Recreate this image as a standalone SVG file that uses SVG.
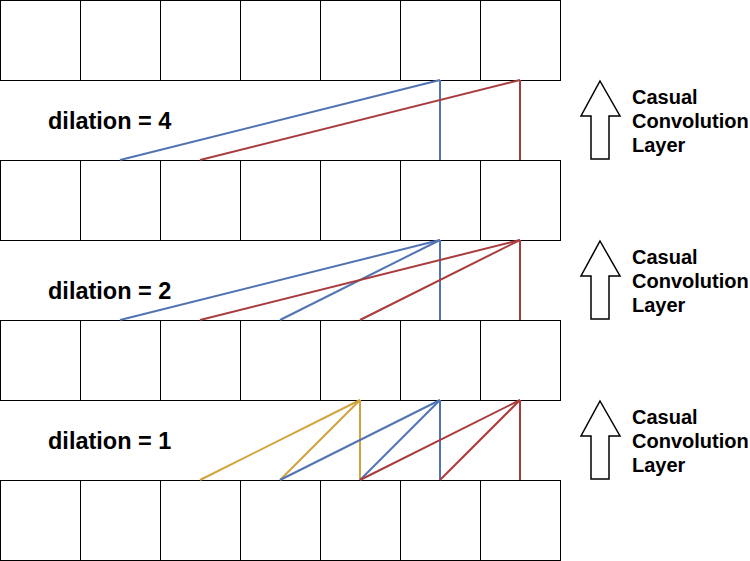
<svg xmlns="http://www.w3.org/2000/svg" width="750" height="561" viewBox="0 0 750 561">
<style>
.cell{fill:#fff;stroke:#000;stroke-width:1}
.b{stroke:#4F73B3;stroke-width:2;fill:none}
.r{stroke:#A83B3B;stroke-width:2;fill:none}
.y{stroke:#D1A23E;stroke-width:2;fill:none}
.arrow{fill:#fff;stroke:#000;stroke-width:1.5;stroke-linejoin:miter}
.dl{font-family:"Liberation Sans",Arial,sans-serif;font-weight:bold;font-size:23.5px;fill:#000}
.lbl{font-family:"Liberation Sans",Arial,sans-serif;font-weight:bold;font-size:20px;fill:#000}
</style>
<defs>
<g id="row">
<rect class="cell" x="0.5" y="0.5" width="80" height="80"/>
<rect class="cell" x="80.5" y="0.5" width="80" height="80"/>
<rect class="cell" x="160.5" y="0.5" width="80" height="80"/>
<rect class="cell" x="240.5" y="0.5" width="80" height="80"/>
<rect class="cell" x="320.5" y="0.5" width="80" height="80"/>
<rect class="cell" x="400.5" y="0.5" width="80" height="80"/>
<rect class="cell" x="480.5" y="0.5" width="80" height="80"/>
</g>
<path id="arr" class="arrow" d="M600,1 L620,36 L609,36 L609,79 L591,79 L591,36 L581,36 Z"/>
</defs>
<g id="row4"><use href="#row" x="0" y="0"/></g>
<g id="row3"><use href="#row" x="0" y="160"/></g>
<g id="row2"><use href="#row" x="0" y="320"/></g>
<g id="row1"><use href="#row" x="0" y="480"/></g>
<g id="connectors">
<line class="b" x1="440" y1="80" x2="120" y2="160"/>
<line class="b" x1="440" y1="80" x2="440" y2="160"/>
<line class="r" x1="520" y1="80" x2="200" y2="160"/>
<line class="r" x1="520" y1="80" x2="520" y2="160"/>
<line class="b" x1="440" y1="240" x2="120" y2="320"/>
<line class="b" x1="440" y1="240" x2="280" y2="320"/>
<line class="b" x1="440" y1="240" x2="440" y2="320"/>
<line class="r" x1="520" y1="240" x2="200" y2="320"/>
<line class="r" x1="520" y1="240" x2="360" y2="320"/>
<line class="r" x1="520" y1="240" x2="520" y2="320"/>
<line class="y" x1="360" y1="400" x2="200" y2="480"/>
<line class="y" x1="360" y1="400" x2="280" y2="480"/>
<line class="y" x1="360" y1="400" x2="360" y2="480"/>
<line class="b" x1="440" y1="400" x2="280" y2="480"/>
<line class="b" x1="440" y1="400" x2="360" y2="480"/>
<line class="b" x1="440" y1="400" x2="440" y2="480"/>
<line class="r" x1="520" y1="400" x2="360" y2="480"/>
<line class="r" x1="520" y1="400" x2="440" y2="480"/>
<line class="r" x1="520" y1="400" x2="520" y2="480"/>
</g>
<g id="label-d4"><text class="dl" x="48" y="129">dilation = 4</text></g>
<g id="label-d2"><text class="dl" x="48" y="299">dilation = 2</text></g>
<g id="label-d1"><text class="dl" x="48" y="449">dilation = 1</text></g>
<g id="arrow1"><use href="#arr" x="0" y="80"/>
<text class="lbl" x="632" y="104">Casual</text><text class="lbl" x="632" y="128">Convolution</text><text class="lbl" x="632" y="152">Layer</text></g>
<g id="arrow2"><use href="#arr" x="0" y="240"/>
<text class="lbl" x="632" y="264">Casual</text><text class="lbl" x="632" y="288">Convolution</text><text class="lbl" x="632" y="312">Layer</text></g>
<g id="arrow3"><use href="#arr" x="0" y="400"/>
<text class="lbl" x="632" y="424">Casual</text><text class="lbl" x="632" y="448">Convolution</text><text class="lbl" x="632" y="472">Layer</text></g>
</svg>
